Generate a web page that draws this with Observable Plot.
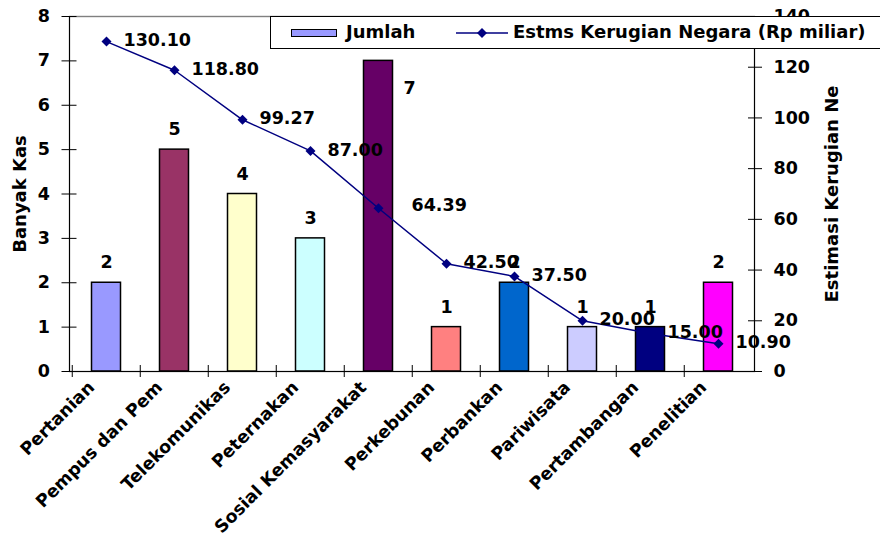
<!DOCTYPE html>
<html>
<head>
<meta charset="utf-8">
<script src="https://cdn.jsdelivr.net/npm/d3@7"></script>
<script src="https://cdn.jsdelivr.net/npm/@observablehq/plot@0.6"></script>
<style>
  html, body { margin: 0; padding: 0; background: #fff; overflow: hidden; }
  #wrap { position: relative; width: 880px; height: 542px; overflow: hidden; }
  #legend {
    position: absolute; left: 270px; top: 16px; width: 640px; height: 33px;
    border: 1px solid #000; background: #fff; box-sizing: border-box;
    font-family: "DejaVu Sans", sans-serif; font-weight: bold; font-size: 18px; color: #000;
  }
  #legend .sw { position: absolute; left: 20px; top: 12px; width: 46px; height: 8px; border: 1.5px solid #000; box-sizing: border-box; }
  #legend .t1 { position: absolute; left: 75px; top: 4px; }
  #legend svg { position: absolute; left: 185px; top: 8px; }
  #legend .t2 { position: absolute; left: 242px; top: 4px; white-space: nowrap; }
</style>
</head>
<body>
<div id="wrap"></div>
<script>
const categories = ["Pertanian", "Pempus dan Pemda", "Telekomunikasi", "Peternakan", "Sosial Kemasyarakatan", "Perkebunan", "Perbankan", "Pariwisata", "Pertambangan", "Penelitian"];
const tickLabels = ["Pertanian", "Pempus dan Pem", "Telekomunikas", "Peternakan", "Sosial Kemasyarakat", "Perkebunan", "Perbankan", "Pariwisata", "Pertambangan", "Penelitian"];
const jumlah = [2, 5, 4, 3, 7, 1, 2, 1, 1, 2];
const kerugian = [130.10, 118.80, 99.27, 87.00, 64.39, 42.50, 37.50, 20.00, 15.00, 10.90];
const barColors = ["#9999FF", "#993366", "#FFFFCC", "#CCFFFF", "#660066", "#FF8080", "#0066CC", "#CCCCFF", "#000080", "#FF00FF"];
const leftTicks = [0, 1, 2, 3, 4, 5, 6, 7, 8];
const rightTicks = [0, 20, 40, 60, 80, 100, 120, 140];
const seriesNames = ["Jumlah", "Estms Kerugian Negara (Rp miliar)"];
const axisTitles = ["Banyak Kas", "Estimasi Kerugian Ne"];

const W = 880, H = 542, mL = 69, mR = 126, mT = 16, mB = 171;
const yMax = 8, rMax = 140;
const toY = v => v * yMax / rMax;
const step = (W - mL - mR) / categories.length;
const FS = 17.5;
const lineColor = "#000080";

const data = categories.map((c, i) => ({cat: c, label: tickLabels[i], count: jumlah[i], k: kerugian[i], color: barColors[i]}));
const maxCount = d3.max(jumlah);
const fmt = d3.format(".2f");
const isMax = d => d.count === maxCount;

const chart = Plot.plot({
  width: W, height: H,
  marginLeft: mL, marginRight: mR, marginTop: mT, marginBottom: mB,
  style: {fontFamily: "DejaVu Sans, sans-serif", fontWeight: "bold", fontSize: FS + "px", background: "#fff", color: "#000"},
  x: {type: "band", domain: categories, padding: 0, axis: null},
  y: {domain: [0, yMax], axis: null},
  color: {type: "identity"},
  marks: [
    Plot.barY(data, {x: "cat", y: "count", fill: "color", stroke: "#000", strokeWidth: 1.5, insetLeft: 19.5, insetRight: 19.5}),
    Plot.frame({stroke: "#000", strokeWidth: 1.2}),
    Plot.ruleY([yMax], {stroke: "#808080", strokeWidth: 1.2}),
    Plot.ruleX(categories, {x: d => d, y1: 0, y2: 0, dx: -step / 2, insetTop: -6, insetBottom: -6, stroke: "#000"}),
    Plot.axisY({anchor: "left", ticks: leftTicks, tickFormat: d => String(d), tickSize: 15, dx: 7.5, tickPadding: 12, label: null, fontSize: FS, fontWeight: "bold"}),
    Plot.axisY({anchor: "right", ticks: rightTicks.map(toY), tickFormat: d => String(Math.round(d * rMax / yMax)), tickSize: 14, dx: -7, tickPadding: 12, label: null, fontSize: FS, fontWeight: "bold"}),
    Plot.line(data, {x: "cat", y: d => toY(d.k), stroke: lineColor, strokeWidth: 1.5}),
    Plot.dot(data, {x: "cat", y: d => toY(d.k), symbol: "diamond2", r: 4.5, fill: lineColor, stroke: "none"}),
    Plot.text(data.filter(d => !isMax(d)), {x: "cat", y: "count", text: d => String(d.count), dy: -20, fontSize: FS}),
    Plot.text(data.filter(isMax), {x: "cat", y: "count", text: d => String(d.count), dx: 31, dy: 28, fontSize: FS}),
    Plot.text(data.filter(d => !isMax(d)), {x: "cat", y: d => toY(d.k), text: d => fmt(d.k), textAnchor: "start", dx: 17, dy: -1, fontSize: FS}),
    Plot.text(data.filter(isMax), {x: "cat", y: d => toY(d.k), text: d => fmt(d.k), textAnchor: "start", dx: 33, dy: -3, fontSize: FS}),
    Plot.text(data, {x: "cat", y: 0, text: "label", rotate: -45, textAnchor: "end", dx: -15, dy: 13, fontSize: FS}),
    Plot.text([axisTitles[0]], {frameAnchor: "left", text: d => d, rotate: -90, textAnchor: "middle", dx: -49, fontSize: 18}),
    Plot.text([axisTitles[1]], {frameAnchor: "right", text: d => d, rotate: -90, textAnchor: "middle", dx: 78, fontSize: 18})
  ]
});

const wrap = document.getElementById("wrap");
wrap.appendChild(chart);

const legend = document.createElement("div");
legend.id = "legend";
legend.innerHTML = `<div class="sw" style="background:${barColors[0]}"></div><span class="t1">${seriesNames[0]}</span>` +
  `<svg width="52" height="16"><line x1="0" y1="8" x2="52" y2="8" stroke="${lineColor}" stroke-width="1.5"/><path d="M26,3 L31,8 L26,13 L21,8 Z" fill="${lineColor}"/></svg>` +
  `<span class="t2">${seriesNames[1]}</span>`;
wrap.appendChild(legend);
</script>
</body>
</html>
